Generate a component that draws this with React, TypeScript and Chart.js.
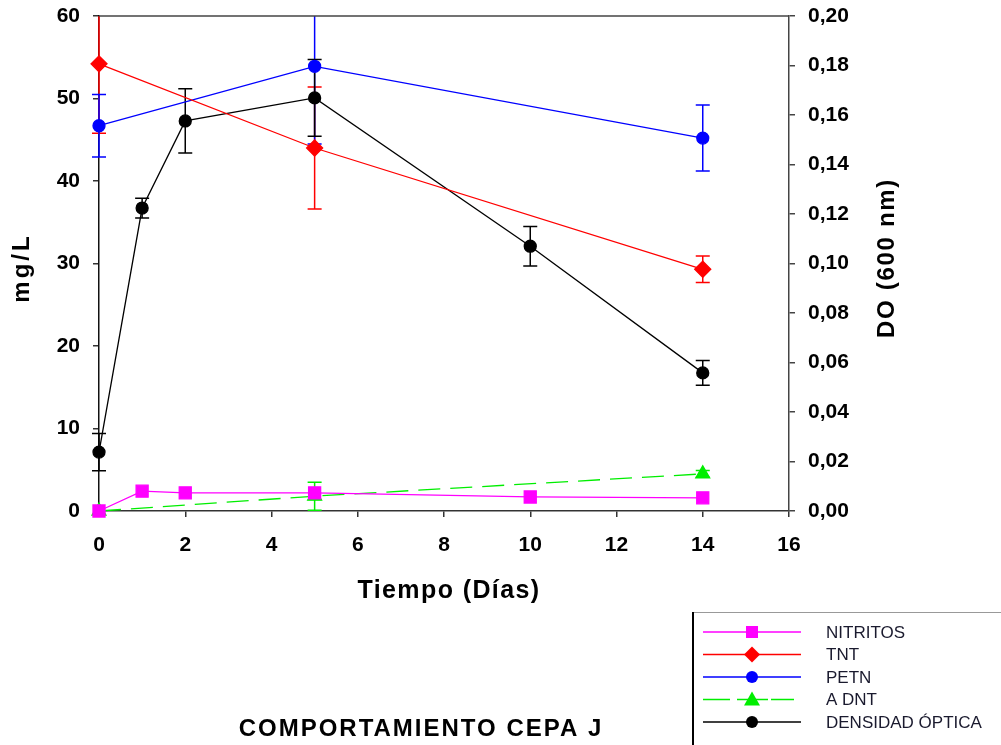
import React, { useEffect, useRef } from "react";
import { Chart, registerables } from "chart.js";

Chart.register(...registerables);

const daysAll = [0, 1, 2, 5, 10, 14];
const daysSparse = [0, 5, 14];
const xTicks = [0, 2, 4, 6, 8, 10, 12, 14, 16];

const nitritos = [0, 2.4, 2.2, 2.2, 1.7, 1.6];
const nitritosErr = [0, 0, 0, 0, 0, 0];
const tnt = [54.2, 44.0, 29.3];
const tntErr = [8.4, 7.4, 1.6];
const petn = [46.7, 53.9, 45.2];
const petnErr = [3.8, 9.4, 4.0];
const adnt = [0, 1.8, 4.5];
const adntErr = [0, 1.7, 0.4];
const densidad = [0.0238, 0.1224, 0.1576, 0.1669, 0.107, 0.0558];
const densidadErr = [0.0075, 0.004, 0.013, 0.0155, 0.008, 0.005];

const legendLabels = ["NITRITOS", "TNT", "PETN", "A DNT", "DENSIDAD ÓPTICA"];

const FONT = "'Liberation Sans', Arial, sans-serif";

const pts = (xs: number[], ys: number[]) => xs.map((x, i) => ({ x, y: ys[i] }));

function drawMarker(ctx: CanvasRenderingContext2D, style: string, x: number, y: number, color: string) {
  ctx.save();
  ctx.fillStyle = color;
  ctx.beginPath();
  if (style === "rect") {
    ctx.rect(x - 6, y - 6, 12, 12);
  } else if (style === "rectRot") {
    ctx.moveTo(x, y - 8);
    ctx.lineTo(x + 8, y);
    ctx.lineTo(x, y + 8);
    ctx.lineTo(x - 8, y);
    ctx.closePath();
  } else if (style === "triangle") {
    ctx.moveTo(x, y - 8);
    ctx.lineTo(x + 8, y + 6);
    ctx.lineTo(x - 8, y + 6);
    ctx.closePath();
  } else {
    ctx.arc(x, y, 6, 0, Math.PI * 2);
  }
  ctx.fill();
  ctx.restore();
}

const errorBarPlugin = {
  id: "errorBars",
  beforeDatasetsDraw(chart: any) {
    const { ctx, chartArea } = chart;
    ctx.save();
    ctx.beginPath();
    ctx.rect(chartArea.left - 10, chartArea.top, chartArea.right - chartArea.left + 20, chartArea.bottom - chartArea.top);
    ctx.clip();
    chart.data.datasets.forEach((ds: any) => {
      const errs: number[] = ds.errors;
      if (!errs) return;
      const xs = chart.scales.x;
      const ys = chart.scales[ds.yAxisID];
      ctx.strokeStyle = ds.borderColor;
      ctx.lineWidth = 1.5;
      ctx.setLineDash([]);
      ds.data.forEach((p: any, i: number) => {
        const e = errs[i];
        if (!e) return;
        const px = xs.getPixelForValue(p.x);
        const top = ys.getPixelForValue(p.y + e);
        const bot = ys.getPixelForValue(p.y - e);
        ctx.beginPath();
        ctx.moveTo(px, top);
        ctx.lineTo(px, bot);
        ctx.moveTo(px - 7, top);
        ctx.lineTo(px + 7, top);
        ctx.moveTo(px - 7, bot);
        ctx.lineTo(px + 7, bot);
        ctx.stroke();
      });
    });
    ctx.restore();
  },
};

const decorPlugin = {
  id: "decor",
  afterDraw(chart: any) {
    const { ctx, chartArea } = chart;
    ctx.save();
    // top frame line
    ctx.strokeStyle = "#444";
    ctx.lineWidth = 1.5;
    ctx.beginPath();
    ctx.moveTo(chartArea.left, chartArea.top);
    ctx.lineTo(chartArea.right, chartArea.top);
    ctx.stroke();

    ctx.fillStyle = "#000";
    ctx.textAlign = "center";
    ctx.textBaseline = "alphabetic";
    ctx.font = `bold 24px ${FONT}`;
    (ctx as any).letterSpacing = "3px";
    ctx.save();
    ctx.translate(29, 268);
    ctx.rotate(-Math.PI / 2);
    ctx.fillText("mg/L", 0, 0);
    ctx.restore();
    (ctx as any).letterSpacing = "1.7px";
    ctx.save();
    ctx.translate(894, 258);
    ctx.rotate(-Math.PI / 2);
    ctx.fillText("DO (600 nm)", 0, 0);
    ctx.restore();
    ctx.font = `bold 25px ${FONT}`;
    (ctx as any).letterSpacing = "1.4px";
    ctx.fillText("Tiempo (Días)", 449, 598);
    ctx.font = `bold 24px ${FONT}`;
    (ctx as any).letterSpacing = "2px";
    ctx.fillText("COMPORTAMIENTO CEPA J", 421, 736);
    (ctx as any).letterSpacing = "0px";

    // legend box
    ctx.strokeStyle = "#999";
    ctx.lineWidth = 1;
    ctx.beginPath();
    ctx.moveTo(692, 612.5);
    ctx.lineTo(1001, 612.5);
    ctx.stroke();
    ctx.strokeStyle = "#000";
    ctx.lineWidth = 2;
    ctx.beginPath();
    ctx.moveTo(693, 612);
    ctx.lineTo(693, 745);
    ctx.stroke();

    const dsList = chart.data.datasets;
    ctx.font = `17px ${FONT}`;
    ctx.textAlign = "left";
    ctx.textBaseline = "middle";
    dsList.forEach((ds: any, r: number) => {
      const y = 632 + r * 22.5;
      ctx.strokeStyle = ds.borderColor;
      ctx.lineWidth = 1.3;
      ctx.beginPath();
      if (ds.borderDash) {
        ctx.moveTo(703, y);
        ctx.lineTo(730, y);
        ctx.moveTo(737, y);
        ctx.lineTo(768, y);
        ctx.moveTo(771, y);
        ctx.lineTo(794, y);
      } else {
        ctx.moveTo(703, y);
        ctx.lineTo(801, y);
      }
      ctx.stroke();
      drawMarker(ctx, ds.pointStyle, 752, y, ds.backgroundColor);
      ctx.fillStyle = "#1a1a2e";
      ctx.fillText(legendLabels[r], 826, y + 1);
    });
    ctx.restore();
  },
};

const tickFont = { family: FONT, size: 21, weight: "bold" };

export default function App() {
  const ref = useRef<HTMLCanvasElement | null>(null);

  useEffect(() => {
    if (!ref.current) return;
    const common = { borderWidth: 1.3, pointHoverRadius: 7, clip: false as any, tension: 0 };
    const chart = new Chart(ref.current, {
      type: "line",
      data: {
        datasets: [
          {
            label: legendLabels[0],
            data: pts(daysAll, nitritos),
            errors: nitritosErr,
            borderColor: "#ff00ff",
            backgroundColor: "#ff00ff",
            pointStyle: "rect",
            yAxisID: "y",
            ...common,
            pointRadius: 8.5,
          } as any,
          {
            label: legendLabels[1],
            data: pts(daysSparse, tnt),
            errors: tntErr,
            borderColor: "#ff0000",
            backgroundColor: "#ff0000",
            pointStyle: "rectRot",
            yAxisID: "y",
            ...common,
            pointRadius: 8,
          } as any,
          {
            label: legendLabels[2],
            data: pts(daysSparse, petn),
            errors: petnErr,
            borderColor: "#0000ff",
            backgroundColor: "#0000ff",
            pointStyle: "circle",
            yAxisID: "y",
            ...common,
            pointRadius: 6,
          } as any,
          {
            label: legendLabels[3],
            data: pts(daysSparse, adnt),
            errors: adntErr,
            borderColor: "#00ee00",
            backgroundColor: "#00ee00",
            pointStyle: "triangle",
            borderDash: [22, 10],
            yAxisID: "y",
            ...common,
            pointRadius: 8,
          } as any,
          {
            label: legendLabels[4],
            data: pts(daysAll, densidad),
            errors: densidadErr,
            borderColor: "#000000",
            backgroundColor: "#000000",
            pointStyle: "circle",
            yAxisID: "y2",
            ...common,
            pointRadius: 6,
          } as any,
        ],
      },
      options: {
        animation: false,
        responsive: false,
        maintainAspectRatio: false,
        layout: { padding: { top: 16, left: 0, right: 0, bottom: 0 } },
        plugins: { legend: { display: false }, tooltip: { enabled: false } },
        elements: { point: { borderWidth: 0 } },
        scales: {
          x: {
            type: "linear",
            min: 0,
            max: 16,
            afterBuildTicks: (s: any) => {
              s.ticks = xTicks.map((v) => ({ value: v }));
            },
            afterFit: (s: any) => {
              s.height = 234;
              s.paddingLeft = 0;
              s.paddingRight = 0;
            },
            border: { display: true, color: "#333", width: 1.5 },
            grid: { drawOnChartArea: false, drawTicks: true, tickLength: 6, color: "#333", lineWidth: 1.5 },
            ticks: { color: "#000", font: tickFont, padding: 16, maxRotation: 0 },
          },
          y: {
            type: "linear",
            position: "left",
            min: 0,
            max: 60,
            ticks: { stepSize: 10, color: "#000", font: tickFont, padding: 13 },
            afterFit: (s: any) => {
              s.width = 99;
              s.paddingTop = 0;
              s.paddingBottom = 0;
            },
            border: { display: true, color: "#111", width: 1.5 },
            grid: { drawOnChartArea: false, drawTicks: true, tickLength: 6, color: "#333", lineWidth: 1.5 },
          },
          y2: {
            type: "linear",
            position: "right",
            min: 0,
            max: 0.2,
            ticks: {
              stepSize: 0.02,
              color: "#000",
              font: tickFont,
              padding: 13,
              callback: (v: any) => Number(v).toFixed(2).replace(".", ","),
            },
            afterFit: (s: any) => {
              s.width = 212;
              s.paddingTop = 0;
              s.paddingBottom = 0;
            },
            border: { display: true, color: "#444", width: 1.5 },
            grid: { drawOnChartArea: false, drawTicks: true, tickLength: 6, color: "#444", lineWidth: 1.5 },
          },
        },
      } as any,
      plugins: [errorBarPlugin, decorPlugin],
    });
    return () => chart.destroy();
  }, []);

  return (
    <div style={{ position: "fixed", left: 0, top: 0, width: 1001, height: 745, background: "#fff" }}>
      <canvas ref={ref} width={1001} height={745} style={{ width: 1001, height: 745, display: "block" }} />
    </div>
  );
}
